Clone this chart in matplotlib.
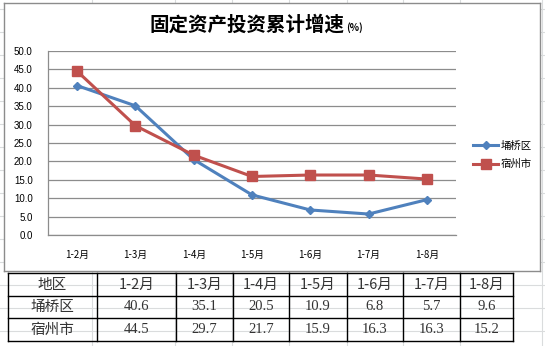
import matplotlib
matplotlib.use("Agg")
import matplotlib.pyplot as plt
from matplotlib.lines import Line2D

plt.rcParams['font.family'] = ['Noto Sans CJK SC', 'DejaVu Sans']

categories = ['1-2月', '1-3月', '1-4月', '1-5月', '1-6月', '1-7月', '1-8月']
yongqiao = [40.6, 35.1, 20.5, 10.9, 6.8, 5.7, 9.6]
suzhou = [44.5, 29.7, 21.7, 15.9, 16.3, 16.3, 15.2]
series_names = ['埇桥区', '宿州市']
table_header = '地区'
y_ticks = [0, 5, 10, 15, 20, 25, 30, 35, 40, 45, 50]

W, H = 545, 346
fig = plt.figure(figsize=(W / 100, H / 100), dpi=100)


def fx(px):
    return px / W


def fy(py):
    return 1 - py / H


# faint worksheet grid behind everything
for gx in [92, 175, 232, 289, 347, 403, 460, 542]:
    fig.add_artist(Line2D([fx(gx), fx(gx)], [0, 1], color='#dadcdd', lw=0.8, zorder=0))
for gy in range(9, 346, 23):
    fig.add_artist(Line2D([0, 1], [fy(gy), fy(gy)], color='#dadcdd', lw=0.8, zorder=0))

# chart area frame
chart = fig.add_axes([fx(4), fy(271), fx(536), (271 - 3) / H])
chart.set_xticks([]); chart.set_yticks([])
chart.set_facecolor('white')
for s in chart.spines.values():
    s.set_color('#8c8c8c'); s.set_linewidth(1.0)
chart.set_zorder(1)

ax = fig.add_axes([fx(48), fy(235), fx(408), (235 - 51) / H])
ax.set_zorder(2)
ax.patch.set_alpha(0)
x = list(range(len(categories)))
ax.plot(x, yongqiao, color='#4F81BD', lw=2.2, marker='D', ms=4.5, label=series_names[0], zorder=3)
ax.plot(x, suzhou, color='#C0504D', lw=2.2, marker='s', ms=6.5, label=series_names[1], zorder=4)
ax.set_xlim(-0.5, len(categories) - 0.5)
ax.set_ylim(0, 50)
ax.set_yticks(y_ticks)
ax.set_yticklabels([f'{v:.1f}' for v in y_ticks], fontsize=7, family=['Liberation Sans'])
ax.set_xticks(x)
ax.set_xticklabels(categories, fontsize=7)
ax.tick_params(axis='both', length=0)
ax.tick_params(axis='y', pad=11)
ax.tick_params(axis='x', pad=11)
ax.grid(axis='y', color='#8c8c8c', lw=0.9)
ax.set_axisbelow(True)
for side in ['top', 'right']:
    ax.spines[side].set_visible(False)
for side in ['left', 'bottom']:
    ax.spines[side].set_color('#8c8c8c'); ax.spines[side].set_linewidth(0.9)

leg = ax.legend(loc='center left', bbox_to_anchor=(fx(464), fy(155)),
                bbox_transform=fig.transFigure, frameon=False, fontsize=7.5,
                handlelength=2.4, labelspacing=0.8, handletextpad=0.2)

fig.text(fx(247), fy(25), '固定资产投资累计增速', ha='center', va='center',
         fontsize=14, fontweight='bold')
fig.text(fx(346), fy(28), '(%)', ha='left', va='center', fontsize=7, fontweight='bold')

# data table under the chart
col_edges = [8, 97, 176, 233, 289, 347, 403, 460, 513]
row_edges = [273, 296, 318, 341]
for cx in col_edges:
    fig.add_artist(Line2D([fx(cx), fx(cx)], [fy(row_edges[0]), fy(row_edges[-1])],
                          color='black', lw=1.0, zorder=5))
for ry in row_edges:
    fig.add_artist(Line2D([fx(col_edges[0]), fx(col_edges[-1])], [fy(ry), fy(ry)],
                          color='black', lw=1.0, zorder=5))

rows = [[table_header] + categories,
        [series_names[0]] + [f'{v:.1f}' for v in yongqiao],
        [series_names[1]] + [f'{v:.1f}' for v in suzhou]]
for r, row in enumerate(rows):
    cyc = (row_edges[r] + row_edges[r + 1]) / 2
    for c, txt in enumerate(row):
        cxc = (col_edges[c] + col_edges[c + 1]) / 2
        fam = ['Liberation Serif', 'Noto Sans CJK SC'] if (r > 0 and c > 0) else ['Noto Sans CJK SC']
        fig.text(fx(cxc), fy(cyc), txt, ha='center', va='center', fontsize=10.5,
                 family=fam, color='#333333', fontweight='light', zorder=6)

fig.savefig('out.png', dpi=100, facecolor='white')
